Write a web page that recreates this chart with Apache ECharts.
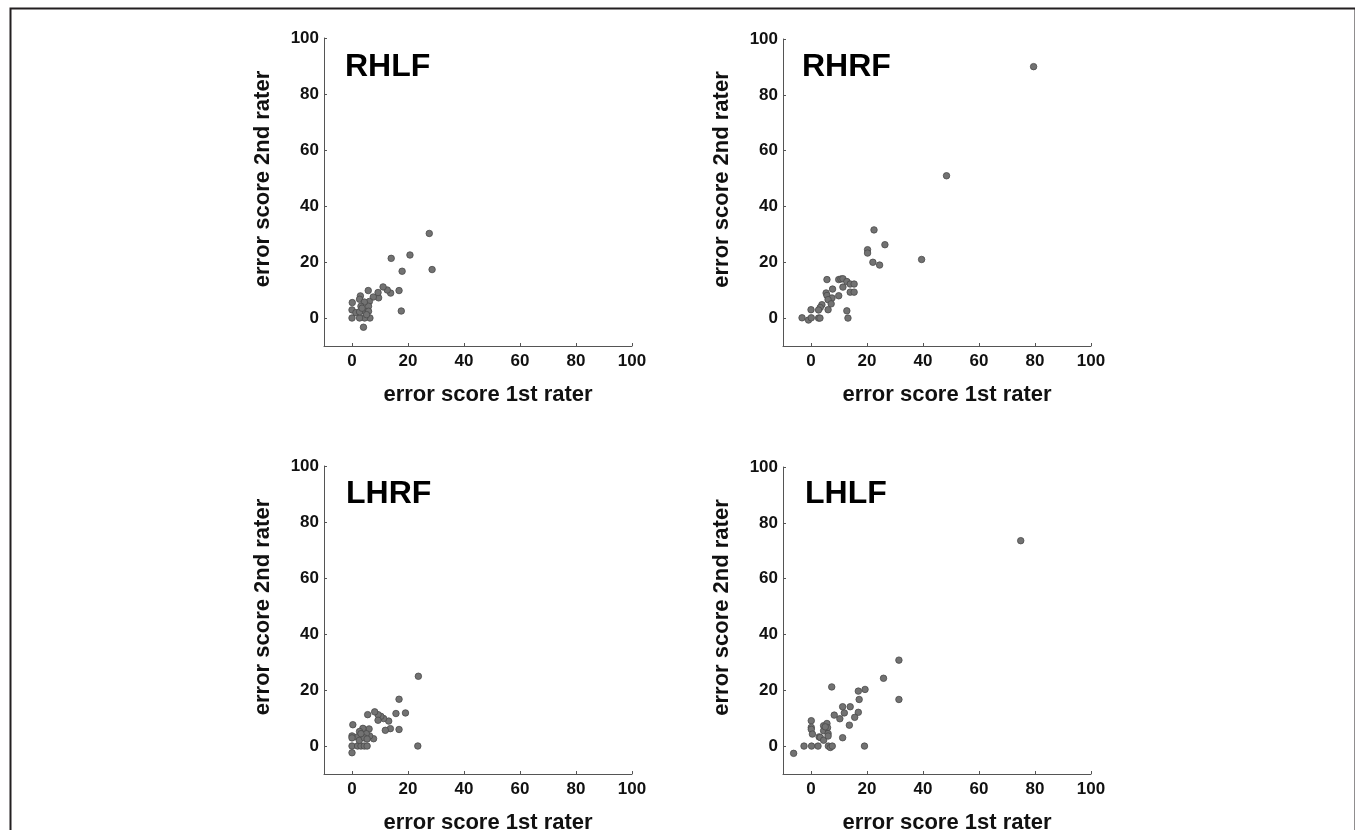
<!DOCTYPE html>
<html>
<head>
<meta charset="utf-8">
<script src="https://cdn.jsdelivr.net/npm/echarts@6/dist/echarts.min.js"></script>
<style>
  html, body { margin: 0; padding: 0; background: #fff; }
  #chart { width: 1355px; height: 830px; }
</style>
</head>
<body>
<div id="chart"></div>
<script>
// panel names, in drawing order (top-left, top-right, bottom-left, bottom-right)
var panelNames = ['RHLF', 'RHRF', 'LHRF', 'LHLF']
var tickValues = [0, 20, 40, 60, 80, 100]
var xTitle = 'error score 1st rater'
var yTitle = 'error score 2nd rater'

// [1st rater, 2nd rater]
var rhlfPoints = [
  [27.6,30.2],[28.6,17.3],[20.7,22.5],[14.0,21.3],[17.9,16.7],[17.6,2.5],[16.8,9.8],
  [13.8,8.9],[12.6,10.0],[11.1,11.1],[9.5,7.2],[9.3,9.1],[7.6,7.5],[5.8,9.8],[6.2,5.9],
  [5.9,4.2],[6.4,0],[4.1,-3.3],[4.5,0],[2.7,0],[0,0],[0,2.9],[0.1,5.5],[1.4,1.9],
  [3.0,7.9],[2.7,6.7],[4.4,5.7],[3.2,4.2],[4.4,2.4],[2.7,2.2],[5.9,2.4],[5.2,1.2],[3.6,3.5]
]
var rhrfPoints = [
  [79.5,90.1],[48.4,51.0],[39.5,21.0],[22.5,31.6],[26.4,26.3],[20.2,24.5],[20.2,23.3],
  [22.1,20.0],[24.5,19.0],[5.7,13.8],[9.9,13.8],[10.7,14.0],[11.4,14.1],[12.8,13.1],
  [14.0,12.2],[15.4,12.2],[11.4,11.1],[7.7,10.4],[14.0,9.3],[15.4,9.3],[9.9,8.0],[5.4,9.0],
  [5.7,8.1],[7.5,7.2],[6.1,6.6],[7.2,5.1],[3.9,4.8],[3.3,3.8],[6.1,3.0],[0,3.0],[2.7,2.9],
  [-3.2,0.1],[-0.9,-0.7],[0.1,0.1],[2.7,0],[3.2,0],[12.8,2.6],[13.2,0]
]
var lhrfPoints = [
  [23.7,24.9],[23.5,0],[16.8,16.7],[19.1,11.8],[15.7,11.6],[16.8,5.9],[13.7,6.2],[13.1,8.9],
  [11.9,5.6],[11.3,9.8],[10.3,10.6],[9.3,11.2],[8.1,12.2],[9.3,9.2],[5.6,11.2],[7.7,2.6],
  [6.3,3.6],[6.1,6.1],[5.1,4.4],[3.9,6.3],[2.7,5.2],[1.8,3.2],[0,3.6],[0,2.9],[0.3,7.6],
  [0,0],[0,-2.4],[2.0,0],[3.2,0],[4.4,0],[5.4,0],[2.6,2.0],[4.4,2.9],[3.2,4.4],[5.4,2.5]
]
var lhlfPoints = [
  [74.9,73.6],[31.4,30.8],[31.4,16.7],[25.9,24.3],[19.3,20.3],[16.9,19.7],[17.2,16.7],
  [16.9,12.1],[15.6,10.3],[14.0,14.1],[13.7,7.5],[11.9,11.9],[11.3,14.1],[11.3,3.0],
  [10.3,9.8],[8.3,11.1],[7.4,21.2],[19.1,0],[-6.2,-2.6],[-2.5,0],[0.2,0],[2.5,0],[0.1,9.1],
  [0.1,6.7],[0.1,6.0],[0.5,4.3],[2.9,3.3],[3.3,3.1],[4.5,2.1],[4.5,5.5],[4.5,7.3],[5.7,8.1],
  [5.9,6.6],[6.1,4.5],[6.1,3.6],[6.2,0],[6.9,-0.5],[7.6,0],[5.1,6.9]
]
var allPoints = [rhlfPoints, rhrfPoints, lhrfPoints, lhlfPoints]

var font = '"Liberation Sans", Arial, sans-serif'
var grids = [
  {left: 324, top: 38, width: 308, height: 308, outerBoundsMode: 'none'},
  {left: 783, top: 39, width: 308, height: 307, outerBoundsMode: 'none'},
  {left: 324, top: 466, width: 308, height: 308, outerBoundsMode: 'none'},
  {left: 783, top: 467, width: 308, height: 307, outerBoundsMode: 'none'}
]
var titlePos = [[340, 46], [797, 46], [341, 473], [800, 473]]

function axisBase() {
  return {
    type: 'value', min: -10, max: 100,
    splitLine: {show: false},
    axisLine: {onZero: false, lineStyle: {color: '#555', width: 1}},
    axisTick: {inside: true, length: 3, lineStyle: {color: '#555'}, customValues: tickValues},
    axisLabel: {customValues: tickValues, color: '#111', fontFamily: font, fontWeight: 'bold', fontSize: 17},
    nameLocation: 'middle',
    nameTextStyle: {color: '#111', fontFamily: font, fontWeight: 'bold', fontSize: 22}
  }
}

var xAxes = [], yAxes = [], series = [], titles = []
for (var i = 0; i < 4; i++) {
  var xa = axisBase()
  xa.gridIndex = i
  xa.name = xTitle
  xa.nameGap = 38
  xa.nameTextStyle.padding = [0, 0, 0, 20]
  xa.axisLabel.margin = 7
  xAxes.push(xa)
  var ya = axisBase()
  ya.gridIndex = i
  ya.name = yTitle
  ya.nameGap = 50
  ya.nameTextStyle.padding = [0, 0, 0, 26]
  ya.axisLabel.margin = 5
  yAxes.push(ya)
  series.push({
    type: 'scatter', xAxisIndex: i, yAxisIndex: i,
    data: allPoints[i], symbolSize: 6.5, animation: false,
    itemStyle: {color: '#727272', borderColor: '#4a4a4a', borderWidth: 0.8, opacity: 1}
  })
  titles.push({
    text: panelNames[i], left: titlePos[i][0], top: titlePos[i][1],
    textStyle: {color: '#000', fontFamily: font, fontWeight: 'bold', fontSize: 32}
  })
}

var chart = echarts.init(document.getElementById('chart'), null, {renderer: 'canvas'})
chart.setOption({
  backgroundColor: '#fff',
  animation: false,
  title: titles,
  grid: grids,
  xAxis: xAxes,
  yAxis: yAxes,
  series: series,
  graphic: [{
    type: 'rect', left: 8, top: 6,
    shape: {width: 1345, height: 840},
    style: {fill: 'none', stroke: '#231f20', lineWidth: 2}
  }]
})
</script>
</body>
</html>
